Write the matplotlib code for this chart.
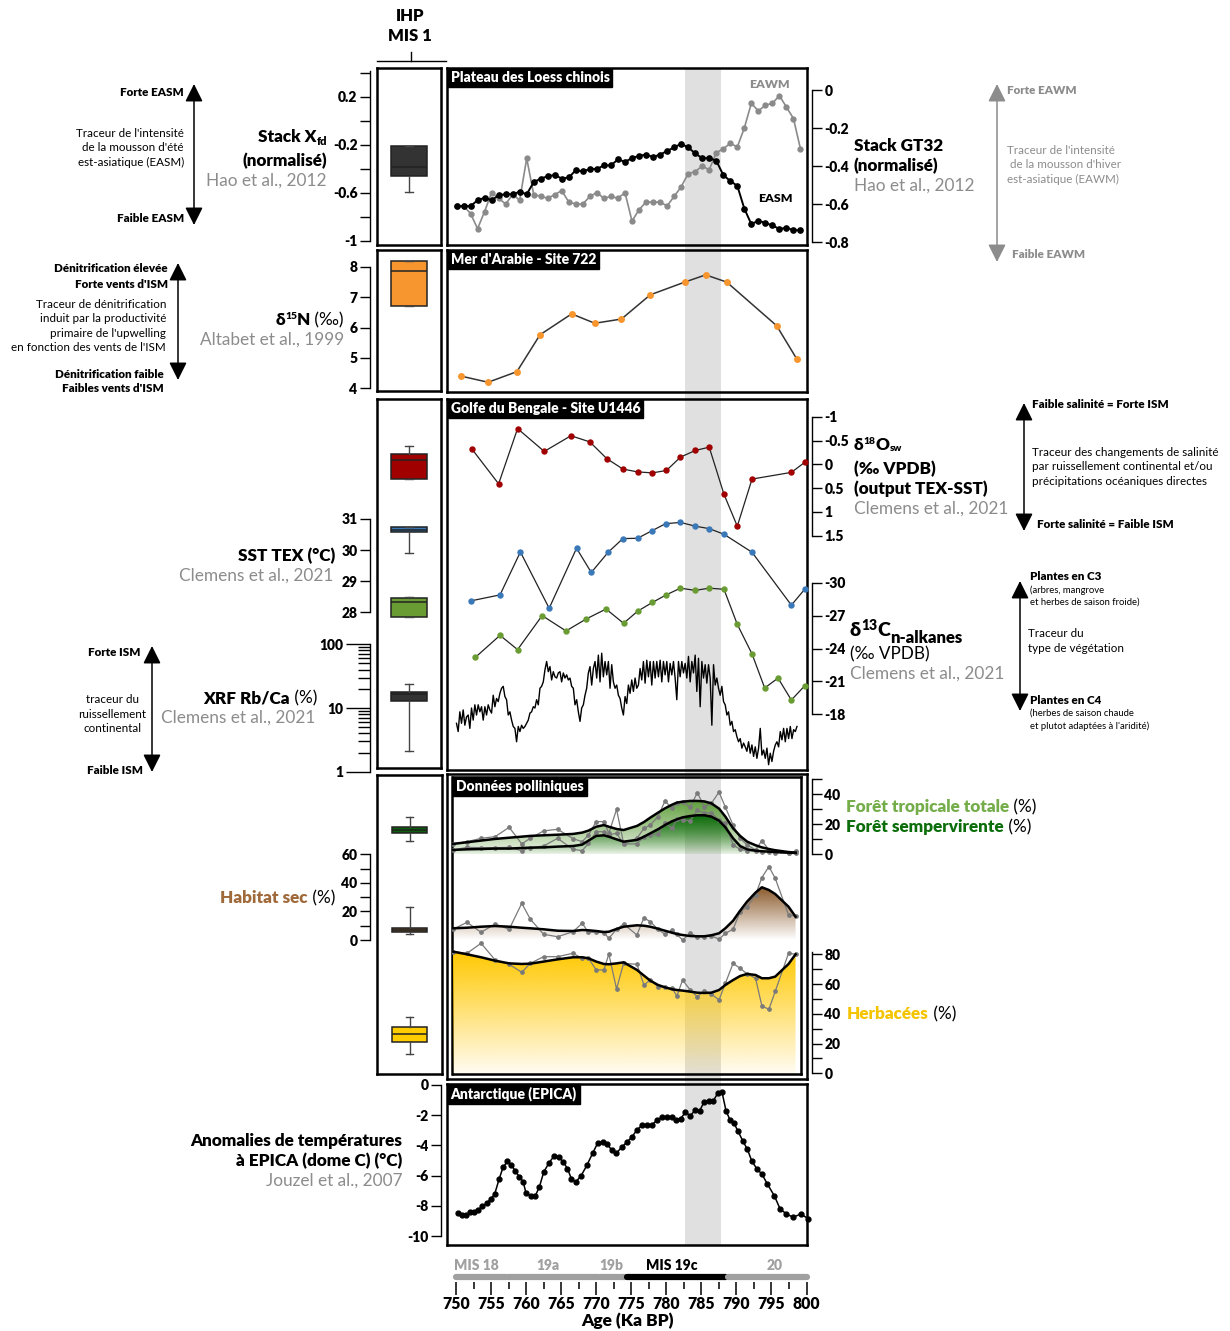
import numpy as np
import matplotlib.pyplot as plt
from matplotlib.colors import to_rgb
from matplotlib.patches import Rectangle
from matplotlib.transforms import blended_transform_factory
from matplotlib.ticker import NullFormatter

plt.rcParams['font.family'] = ['Lato', 'DejaVu Sans']
plt.rcParams['axes.unicode_minus'] = False

# ---------------------------------------------------------------- data
# Loess plateau stacks (1 ka resolution)
loess_age = list(range(750, 800))
easm_xfd = [-0.71, -0.71, -0.71, -0.66, -0.64, -0.66, -0.62, -0.61, -0.61, -0.59,
            -0.61, -0.51, -0.48, -0.46, -0.45, -0.48, -0.47, -0.41, -0.42, -0.40,
            -0.40, -0.37, -0.37, -0.32, -0.34, -0.31, -0.29, -0.28, -0.30, -0.28,
            -0.25, -0.22, -0.19, -0.22, -0.27, -0.31, -0.31, -0.33, -0.45, -0.50,
            -0.54, -0.73, -0.86, -0.83, -0.85, -0.87, -0.90, -0.89, -0.91, -0.91]
eawm_gt32 = [-0.61, -0.61, -0.65, -0.73, -0.64, -0.54, -0.57, -0.60, -0.55, -0.58,
             -0.36, -0.55, -0.56, -0.57, -0.55, -0.53, -0.59, -0.60, -0.60, -0.56,
             -0.54, -0.57, -0.56, -0.57, -0.54, -0.69, -0.63, -0.59, -0.59, -0.59,
             -0.61, -0.56, -0.51, -0.44, -0.43, -0.40, -0.42, -0.33, -0.31, -0.28,
             -0.30, -0.20, -0.07, -0.11, -0.08, -0.07, -0.03, -0.09, -0.15, -0.31]

# Arabian Sea, site 722
arabia_age = [750.7, 754.5, 758.6, 761.9, 766.4, 769.7, 773.5, 777.6, 782.5, 785.5, 788.5, 795.6, 798.5]
arabia_d15n = [4.39, 4.19, 4.54, 5.76, 6.45, 6.14, 6.28, 7.08, 7.50, 7.74, 7.50, 6.06, 4.95]

# Bay of Bengal, site U1446
d18o_age = [752.2, 756.0, 758.7, 762.5, 766.3, 769.0, 771.4, 773.7, 775.8, 777.9,
            779.9, 781.9, 784.0, 786.0, 788.1, 790.0, 792.1, 797.7, 799.6]
d18o_sw = [-0.32, 0.41, -0.75, -0.27, -0.60, -0.47, -0.12, 0.10, 0.16, 0.18,
           0.13, -0.15, -0.29, -0.36, 0.63, 1.30, 0.31, 0.17, -0.04]
sst_age = [752.1, 756.2, 759.1, 763.2, 767.1, 769.2, 771.6, 773.7, 775.8, 777.9,
           779.8, 781.9, 784.0, 786.0, 788.1, 792.1, 797.7, 799.6]
sst_tex = [28.37, 28.56, 29.94, 28.13, 30.06, 29.28, 29.93, 30.37, 30.38, 30.63,
           30.85, 30.89, 30.77, 30.69, 30.51, 29.93, 28.23, 28.74]
d13c_age = [752.7, 756.2, 758.7, 762.2, 765.6, 768.5, 771.3, 773.8, 775.8, 777.9,
            779.9, 781.9, 784.0, 786.0, 788.1, 790.0, 792.1, 793.9, 795.8, 797.7, 799.6]
d13c_alk = [-23.2, -25.2, -23.9, -27.0, -25.6, -26.7, -27.6, -26.3, -27.4, -28.2,
            -28.9, -29.5, -29.3, -29.5, -29.4, -26.2, -23.5, -20.4, -21.3, -19.3, -20.6]
# XRF Rb/Ca, log10 of the percentage, evenly sampled between the two ages
xrf_first_age, xrf_last_age = 750.0, 798.5
xrf_rbca_log10 = [
    0.76, 0.63, 0.94, 0.76, 0.97, 0.73, 0.86, 0.89, 0.68, 1.00,
    0.81, 1.05, 0.89, 1.05, 0.94, 1.02, 0.81, 1.02, 0.89, 1.05,
    0.97, 0.92, 1.20, 1.02, 1.15, 1.10, 1.23, 1.31, 1.34, 1.18,
    1.13, 0.89, 0.94, 0.81, 0.71, 0.68, 0.47, 0.71, 0.63, 0.73,
    0.68, 0.71, 0.76, 0.81, 0.92, 0.94, 1.02, 1.00, 1.13, 1.05,
    1.31, 1.34, 1.41, 1.60, 1.73, 1.57, 1.65, 1.44, 1.57, 1.49,
    1.47, 1.55, 1.57, 1.41, 1.55, 1.47, 1.52, 1.44, 1.47, 1.34,
    1.31, 1.05, 1.13, 0.94, 0.79, 1.00, 1.05, 1.20, 1.31, 1.55,
    1.65, 1.36, 1.62, 1.73, 1.47, 1.83, 1.41, 1.86, 1.49, 1.73,
    1.52, 1.73, 1.31, 1.68, 1.41, 1.31, 1.36, 1.20, 1.15, 1.00,
    0.89, 1.18, 1.07, 1.36, 1.23, 1.44, 1.26, 1.47, 1.31, 1.36,
    1.62, 1.44, 1.73, 1.39, 1.75, 1.49, 1.73, 1.36, 1.73, 1.47,
    1.73, 1.49, 1.75, 1.41, 1.73, 1.52, 1.73, 1.41, 1.70, 1.52,
    1.73, 1.47, 1.13, 1.73, 1.49, 1.73, 1.55, 1.70, 1.47, 1.81,
    1.41, 1.73, 1.55, 1.83, 1.26, 1.78, 1.02, 1.73, 1.47, 1.68,
    1.39, 1.68, 1.47, 0.73, 1.68, 1.36, 1.47, 1.31, 1.20, 1.34,
    1.10, 1.05, 0.89, 0.94, 0.73, 0.79, 0.63, 0.66, 0.55, 0.47,
    0.52, 0.37, 0.45, 0.39, 0.32, 0.47, 0.29, 0.42, 0.24, 0.39,
    0.21, 0.37, 0.68, 0.26, 0.34, 0.21, 0.37, 0.11, 0.29, 0.16,
    0.32, 0.42, 0.47, 0.39, 0.63, 0.50, 0.68, 0.47, 0.68, 0.52,
    0.71, 0.52, 0.66, 0.63, 0.71]

# pollen (%)
pollen_age = [749.5, 751.5, 753.5, 755.5, 757.5, 759.3, 760.5, 762.4, 764.4, 766.6,
              767.9, 768.8, 769.9, 771.0, 771.7, 772.8, 773.8, 775.7, 776.7, 777.6,
              778.7, 779.7, 780.7, 781.4, 782.2, 783.3, 784.3, 785.3, 786.3, 787.4,
              788.3, 789.4, 790.4, 791.4, 792.6, 793.5, 794.5, 795.4, 797.3, 798.3]
forest_total_raw = [6.9, 8.4, 10.6, 11.7, 17.9, 6.9, 10.6, 15.5, 16.6, 10.4,
                    8.4, 12.8, 21.7, 21.7, 14.0, 29.8, 7.3, 10.6, 17.2, 19.4,
                    25.0, 35.4, 30.5, 34.3, 34.9, 31.2, 40.9, 31.6, 33.8, 41.3,
                    31.2, 19.4, 10.6, 6.2, 2.9, 9.1, 2.9, 1.8, 0.7, 2.2]
forest_total_smooth = [6.9, 8.0, 9.1, 10.2, 11.0, 11.7, 12.2, 12.6, 13.0, 13.5,
                       14.4, 15.7, 18.3, 19.4, 18.3, 16.8, 16.1, 18.8, 21.4, 24.3,
                       27.6, 30.5, 32.9, 34.3, 34.9, 35.4, 35.4, 35.1, 33.8, 30.3,
                       25.0, 17.2, 12.2, 8.4, 6.0, 4.6, 3.5, 2.7, 1.5, 1.1]
forest_semp_raw = [2.9, 4.6, 4.4, 4.4, 4.6, 2.4, 4.4, 5.5, 10.6, 3.3,
                   2.4, 7.3, 15.0, 15.0, 13.0, 13.9, 6.9, 6.9, 11.7, 12.8,
                   13.5, 20.6, 17.2, 23.2, 22.8, 22.3, 29.4, 27.2, 27.6, 22.8,
                   20.6, 6.2, 3.3, 2.4, 2.2, 1.8, 1.8, 1.1, 0.7, 0.7]
forest_semp_smooth = [2.9, 3.3, 3.5, 3.8, 3.8, 4.2, 4.4, 4.6, 5.1, 5.5,
                      6.4, 9.1, 12.2, 12.6, 11.7, 9.9, 8.4, 9.5, 11.7, 13.9,
                      16.6, 19.4, 21.9, 23.2, 24.5, 25.4, 25.9, 25.9, 25.0, 22.3,
                      17.9, 10.6, 5.5, 3.3, 2.4, 2.0, 1.8, 1.5, 1.1, 0.9]
dry_raw = [7.5, 12.4, 5.4, 11.2, 7.5, 25.7, 14.7, 4.0, 2.3, 5.8,
           11.7, 5.4, 5.4, 5.1, 1.2, 7.5, 11.2, 3.5, 15.6, 12.8,
           7.5, 4.0, 7.0, 4.0, 0.0, 4.7, 2.3, 2.3, 3.0, 0.5,
           4.7, 7.5, 19.8, 23.3, 31.5, 43.7, 51.4, 43.2, 17.5, 16.8]
dry_smooth = [8.2, 8.6, 9.3, 9.8, 9.3, 8.6, 8.2, 7.5, 6.5, 6.3,
              7.0, 6.8, 6.3, 5.6, 5.8, 7.7, 9.3, 10.3, 10.0, 9.3,
              7.9, 6.5, 5.1, 4.2, 3.5, 2.8, 2.6, 2.6, 3.3, 4.7,
              8.2, 13.5, 20.5, 26.9, 33.2, 36.9, 35.0, 32.2, 23.3, 16.3]
herb_raw = [81.8, 80.7, 87.4, 76.2, 73.3, 67.9, 73.9, 78.4, 78.4, 80.7,
            77.3, 77.3, 69.5, 69.5, 80.2, 56.7, 73.9, 73.3, 59.4, 62.7,
            58.3, 57.8, 57.1, 52.0, 62.7, 56.0, 51.5, 55.6, 53.3, 49.3,
            60.5, 73.9, 70.6, 66.8, 63.9, 45.3, 43.0, 55.0, 80.7, 80.0]
herb_smooth = [81.8, 80.0, 78.0, 75.7, 73.9, 73.5, 73.7, 75.1, 76.6, 78.0,
               78.0, 77.3, 75.1, 73.5, 73.3, 73.9, 74.6, 69.5, 65.7, 62.3,
               59.4, 57.8, 56.5, 56.0, 55.6, 54.9, 54.2, 54.0, 54.2, 56.0,
               59.4, 62.7, 65.4, 66.8, 66.1, 63.9, 63.9, 65.0, 73.5, 80.0]

# EPICA Dome C temperature anomaly (°C)
epica_age = [750.26, 750.83, 751.40, 751.97, 752.54, 753.11, 753.69, 754.30, 754.87, 755.44,
             756.06, 756.63, 757.25, 757.82, 758.39, 758.96, 759.49, 759.91, 760.58, 761.20,
             761.82, 762.43, 763.20, 763.91, 764.53, 765.19, 765.81, 766.38, 767.00, 767.76,
             768.57, 769.38, 770.14, 770.80, 771.47, 772.09, 772.75, 773.51, 774.23, 774.94,
             775.70, 776.46, 777.18, 777.89, 778.55, 779.27, 779.93, 780.65, 781.22, 781.93,
             782.60, 783.31, 783.98, 784.64, 785.26, 785.97, 786.59, 787.21, 787.83, 788.40,
             788.97, 789.54, 790.11, 790.77, 791.44, 792.06, 792.77, 793.49, 794.25, 795.29,
             796.10, 797.00, 797.96, 799.05, 800.14]
epica_dt = [-8.50, -8.59, -8.63, -8.43, -8.41, -8.28, -8.01, -7.84, -7.55, -7.22,
            -6.25, -5.45, -5.06, -5.28, -5.72, -6.07, -6.40, -7.17, -7.33, -7.37,
            -6.73, -5.76, -5.14, -4.70, -4.75, -5.08, -5.54, -6.23, -6.42, -6.00,
            -5.32, -4.53, -3.82, -3.80, -3.91, -4.30, -4.53, -4.13, -3.80, -3.47,
            -2.98, -2.65, -2.65, -2.63, -2.32, -2.14, -2.10, -2.12, -2.32, -2.23,
            -1.81, -2.03, -1.68, -1.70, -1.13, -1.04, -1.04, -0.55, -0.49, -1.72,
            -2.32, -2.54, -3.07, -3.69, -4.26, -5.03, -5.54, -5.89, -6.53, -7.35,
            -8.21, -8.54, -8.76, -8.54, -8.87]

# IHP MIS 1 box statistics: (q1, median, q3, whisker low, whisker high)
box_xfd = (-0.46, -0.38, -0.21, -0.59, -0.21)
box_d15n = (6.71, 7.88, 8.20, 6.71, 8.20)
box_d18o = (-0.22, -0.08, 0.30, -0.38, 0.30)
box_sst = (30.57, 30.65, 30.73, 29.90, 30.73)
box_d13c = (-28.64, -28.27, -26.85, -28.73, -26.85)
box_xrf = (12.7, 16.6, 17.8, 2.1, 23.8)
box_forest = (13.9, 15.9, 17.9, 8.8, 24.9)
box_dry = (5.6, 7.0, 8.4, 4.2, 22.9)
box_herb = (21.2, 26.4, 31.3, 13.0, 38.0)

# marine isotope stages along the age axis
mis_labels = ['MIS 18', '19a', '19b', 'MIS 19c', '20']
mis_start = [750.0, 757.4, 770.5, 774.3, 788.8]
mis_end = [757.1, 770.2, 774.1, 788.5, 800.0]
mis_label_age = [752.8, 763.0, 772.1, 780.7, 795.4]
shade_start, shade_end = 782.6, 787.7

# ---------------------------------------------------------------- layout helpers (pixels)
W, H = 1230, 1331
fig = plt.figure(figsize=(W / 100, H / 100), dpi=100)

GRAY = '#8c8c8c'
BOLD = 'heavy'
BIG, CIT, SMALL, TINY, TICK = 12.3, 12.4, 8.4, 6.8, 10
REF = {  # pixel row <-> value pairs
    'xfd': (97, 0.2, 241, -1.0), 'gt32': (90, 0.0, 242, -0.8),
    'd15n': (267, 8, 388, 4), 'd18o': (416.7, -1.0, 535.7, 1.5),
    'sst': (519, 31, 612.3, 28), 'd13c': (582.7, -30, 714.3, -18),
    'xrf': (644.3, 2.0, 771.7, 0.0), 'forest': (854.3, 0, 794, 40),
    'dry': (940, 0, 854.3, 60), 'herb': (1073.3, 0, 954.3, 80),
    'epica': (1085, 0, 1236, -10),
}


def px_axes(x0, y0, x1, y1, **kw):
    return fig.add_axes([x0 / W, 1 - y1 / H, (x1 - x0) / W, (y1 - y0) / H], **kw)


def age_lim(x0, x1):
    s = 50 / (807.5 - 456.5)
    return 750 + (x0 - 456.5) * s, 750 + (x1 - 456.5) * s


def vlim(key, y_top, y_bot):
    p1, v1, p2, v2 = REF[key]
    k = (v2 - v1) / (p2 - p1)
    lo, hi = v1 + (y_bot - p1) * k, v1 + (y_top - p1) * k
    if key == 'xrf':
        return 10 ** lo, 10 ** hi
    return lo, hi


def overlay(box, key, xlim=None):
    ax = px_axes(*box)
    ax.axis('off')
    if key == 'xrf':
        ax.set_yscale('log')
    ax.set_xlim(xlim if xlim else age_lim(box[0], box[2]))
    ax.set_ylim(vlim(key, box[1], box[3]))
    return ax


def frame(box, lw=1.8):
    ax = px_axes(*box)
    ax.set_facecolor('none')
    ax.set_xlim(age_lim(box[0], box[2]))
    ax.set_xticks([])
    ax.set_yticks([])
    for s in ax.spines.values():
        s.set_linewidth(lw)
    return ax


def panel(box, title):
    ax = frame(box)
    ax.annotate(title, xy=(0, 1), xycoords='axes fraction', xytext=(2.6, -2.4),
                textcoords='offset points', ha='left', va='top', color='white',
                fontsize=10, fontweight=BOLD,
                bbox=dict(boxstyle='square,pad=0.2', fc='black', ec='black'))
    return ax


def bracket(x, key, y0, y1, side, major, labels, minor=(), big=7, small=7):
    a = px_axes(x, y0, x + 1, y1) if side == 'left' else px_axes(x - 1, y0, x, y1)
    a.patch.set_visible(False)
    for s in a.spines.values():
        s.set_visible(False)
    a.spines[side].set_visible(True)
    a.spines[side].set_linewidth(1.0)
    a.xaxis.set_visible(False)
    if key == 'xrf':
        a.set_yscale('log')
    a.set_ylim(vlim(key, y0, y1))
    a.yaxis.set_ticks_position(side)
    a.set_yticks(major, labels, fontweight=BOLD, fontsize=TICK)
    a.set_yticks(list(minor), minor=True)
    a.yaxis.set_minor_formatter(NullFormatter())
    a.tick_params(axis='y', which='major', direction='out', length=big, width=1.0, pad=2)
    a.tick_params(axis='y', which='minor', direction='out', length=small, width=1.0)
    return a


def draw_box(ax, stats, color):
    q1, med, q3, lo, hi = stats
    ax.bxp([dict(q1=q1, med=med, q3=q3, whislo=lo, whishi=hi, fliers=[])],
           positions=[0.5], widths=[0.55], patch_artist=True, showfliers=False,
           manage_ticks=False, capwidths=[0.12],
           boxprops=dict(facecolor=color, edgecolor='#222222', linewidth=1.1),
           medianprops=dict(color='#222222', linewidth=1.1),
           whiskerprops=dict(color='#444444', linewidth=1.0),
           capprops=dict(color='#444444', linewidth=1.0))


def gradient_fill(ax, x, y, color, a_bot=0.0, a_top=1.0, zorder=1):
    poly = ax.fill_between(x, 0, y, facecolor='none', edgecolor='none')
    grad = np.zeros((200, 1, 4))
    grad[:, :, :3] = to_rgb(color)
    grad[:, 0, 3] = np.linspace(a_bot, a_top, 200)
    im = ax.imshow(grad, aspect='auto', origin='lower', zorder=zorder,
                   extent=[min(x), max(x), 0, max(y)], interpolation='bilinear')
    im.set_clip_path(poly.get_paths()[0], transform=ax.transData)


# text layer in pixel coordinates
ax_t = fig.add_axes([0, 0, 1, 1], zorder=20)
ax_t.set_xlim(0, W)
ax_t.set_ylim(H, 0)
ax_t.axis('off')


def txt(x, y, s, size=SMALL, weight='normal', color='black', ha='left', **kw):
    return ax_t.text(x, y, s, ha=ha, va='center', fontsize=size, fontweight=weight,
                     color=color, **kw)


def rich(x, y, pieces, ha='left'):
    parts = []
    prev = ref = None
    for s, size, weight, color, mode in pieces:
        if prev is None:
            t = ax_t.text(x, y, s, ha='left', va='center', fontsize=size,
                          fontweight=weight, color=color)
            ref = t
        else:
            xy, va = {'sup': ((1, 0.42), 'bottom'), 'sub': ((1, 0.55), 'top'),
                      'n': ((1, 0), 'bottom')}[mode]
            t = ax_t.annotate(s, xy=xy, xycoords=(prev, ref), ha='left', va=va,
                              fontsize=size, fontweight=weight, color=color)
            if mode == 'n':
                ref = t
        parts.append(t)
        prev = t
    if ha == 'right':
        r = fig.canvas.get_renderer()
        x0 = parts[0].get_window_extent(r).x0
        x1 = max(p.get_window_extent(r).x1 for p in parts)
        parts[0].set_x(x - (x1 - x0))
    return parts


def arrow(x, y_top, y_bot, color='black'):
    ax_t.annotate('', xy=(x, y_top), xytext=(x, y_bot),
                  arrowprops=dict(arrowstyle='<|-|>,head_length=0.9,head_width=0.45',
                                  color=color, lw=1.1, shrinkA=0, shrinkB=0,
                                  mutation_scale=12))


# ---------------------------------------------------------------- boxes (pixel layout)
P1 = (447, 68, 806.5, 245)
P2 = (447, 250, 806.5, 391.5)
P3 = (447, 399, 806.5, 769.5)
P4o = (447, 773.5, 806.5, 1079)
P4i = (452.5, 777, 801, 1073.5)
P5 = (447, 1083.5, 806.5, 1244.5)
B1 = (377, 68, 441, 244.5)
B2 = (377, 250, 441, 391)
B3 = (377, 399, 441, 768)
B4 = (377, 775, 442, 1073.5)

# ---------------------------------------------------------------- panel 1: Loess
ax1 = panel(P1, 'Plateau des Loess chinois')
a = overlay(P1, 'gt32')
a.plot(loess_age, eawm_gt32, '-o', color='#8a8a8a', lw=1.2, ms=3.5, clip_on=False)
a = overlay(P1, 'xfd')
a.plot(loess_age, easm_xfd, '-o', color='black', lw=1.4, ms=3.8, clip_on=False)
txt(769, 84, 'EAWM', 8.8, BOLD, GRAY, ha='center')
txt(775, 199, 'EASM', 8.8, BOLD, ha='center')

frame(B1)
draw_box(overlay(B1, 'xfd', (0, 1)), box_xfd, '#333333')
bracket(370, 'xfd', 71, 241, 'left', [0.2, -0.2, -0.6, -1.0], ['0.2', '-0.2', '-0.6', '-1'],
        [0.4, 0.0, -0.4, -0.8])
bracket(812, 'gt32', 90, 242, 'right', [0, -0.2, -0.4, -0.6, -0.8],
        ['0', '-0.2', '-0.4', '-0.6', '-0.8'])

# ---------------------------------------------------------------- panel 2: Arabian Sea
panel(P2, "Mer d'Arabie - Site 722")
a = overlay(P2, 'd15n')
a.plot(arabia_age, arabia_d15n, '-', color='#333333', lw=1.1)
a.plot(arabia_age, arabia_d15n, 'o', color='#f7962e', ms=5, mec='none')
frame(B2)
draw_box(overlay(B2, 'd15n', (0, 1)), box_d15n, '#f7962e')
bracket(370, 'd15n', 267, 388, 'left', [4, 5, 6, 7, 8], ['4', '5', '6', '7', '8'])

# ---------------------------------------------------------------- panel 3: Bay of Bengal
panel(P3, 'Golfe du Bengale - Site U1446')
for key, ages, vals, col in [('d18o', d18o_age, d18o_sw, '#a00000'),
                             ('sst', sst_age, sst_tex, '#3b78b8'),
                             ('d13c', d13c_age, d13c_alk, '#6a9c34')]:
    a = overlay(P3, key)
    a.plot(ages, vals, '-', color='#222222', lw=0.9, clip_on=False)
    a.plot(ages, vals, 'o', color=col, ms=4.6, mec='none', clip_on=False)
a = overlay(P3, 'xrf')
xrf_age = np.linspace(xrf_first_age, xrf_last_age, len(xrf_rbca_log10))
a.plot(xrf_age, 10 ** np.array(xrf_rbca_log10), color='black', lw=1.0)

frame(B3)
draw_box(overlay(B3, 'd18o', (0, 1)), box_d18o, '#a00000')
draw_box(overlay(B3, 'sst', (0, 1)), box_sst, '#3b78b8')
draw_box(overlay(B3, 'd13c', (0, 1)), box_d13c, '#6a9c34')
draw_box(overlay(B3, 'xrf', (0, 1)), box_xrf, '#333333')
bracket(812, 'd18o', 416.7, 535.7, 'right', [-1, -0.5, 0, 0.5, 1, 1.5],
        ['-1', '-0.5', '0', '0.5', '1', '1.5'])
bracket(370, 'sst', 519, 612.3, 'left', [28, 29, 30, 31], ['28', '29', '30', '31'])
bracket(812, 'd13c', 582.7, 714.3, 'right', [-30, -27, -24, -21, -18],
        ['-30', '-27', '-24', '-21', '-18'])
bracket(370, 'xrf', 644.3, 771.7, 'left', [1, 10, 100], ['1', '10', '100'],
        [m * d for d in (1, 10) for m in range(2, 10)], big=17, small=9)

# ---------------------------------------------------------------- panel 4: pollen
frame(P4o)
panel(P4i, 'Données polliniques')
a = overlay(P4i, 'forest')
gradient_fill(a, pollen_age, forest_total_smooth, '#5f9e3c', 0.12, 1.0, zorder=1)
gradient_fill(a, pollen_age, forest_semp_smooth, '#0b6b0b', 0.0, 1.0, zorder=2)
a.plot(pollen_age, forest_total_raw, '-o', color='#7a7a7a', lw=0.9, ms=2.4, zorder=3)
a.plot(pollen_age, forest_semp_raw, '-o', color='#7a7a7a', lw=0.9, ms=2.4, zorder=3)
a.plot(pollen_age, forest_total_smooth, color='black', lw=1.8, zorder=4)
a.plot(pollen_age, forest_semp_smooth, color='black', lw=1.8, zorder=4)
a.set_xlim(age_lim(P4i[0], P4i[2]))
a.set_ylim(vlim('forest', P4i[1], P4i[3]))

a = overlay(P4i, 'dry')
gradient_fill(a, pollen_age, dry_smooth, '#8b5a2b', 0.0, 1.0)
a.plot(pollen_age, dry_raw, '-o', color='#7a7a7a', lw=0.9, ms=2.4, zorder=3)
a.plot(pollen_age, dry_smooth, color='black', lw=1.8, zorder=4)
a.set_xlim(age_lim(P4i[0], P4i[2]))
a.set_ylim(vlim('dry', P4i[1], P4i[3]))

a = overlay(P4i, 'herb')
gradient_fill(a, pollen_age, herb_smooth, '#ffc800', 0.06, 1.0)
a.plot(pollen_age, herb_raw, '-o', color='#7a7a7a', lw=0.9, ms=2.4, zorder=3)
a.plot(pollen_age, herb_smooth, color='black', lw=1.8, zorder=4)
a.set_xlim(age_lim(P4i[0], P4i[2]))
a.set_ylim(vlim('herb', P4i[1], P4i[3]))

frame(B4)
draw_box(overlay(B4, 'forest', (0, 1)), box_forest, '#0b5e0b')
draw_box(overlay(B4, 'dry', (0, 1)), box_dry, '#7a5230')
draw_box(overlay(B4, 'herb', (0, 1)), box_herb, '#ffcc00')
bracket(812, 'forest', 779, 854.3, 'right', [0, 20, 40], ['0', '20', '40'], [10, 30, 50])
bracket(370, 'dry', 854.3, 940, 'left', [0, 20, 40, 60], ['0', '20', '40', '60'], [10, 30, 50])
bracket(812, 'herb', 952, 1073.3, 'right', [0, 20, 40, 60, 80],
        ['0', '20', '40', '60', '80'], [10, 30, 50, 70])

# ---------------------------------------------------------------- panel 5: EPICA
panel(P5, 'Antarctique (EPICA)')
a = overlay(P5, 'epica')
a.plot(epica_age, epica_dt, '-o', color='black', lw=1.1, ms=3.5, clip_on=False)
bracket(441, 'epica', 1085, 1236, 'left', [0, -2, -4, -6, -8, -10],
        ['0', '-2', '-4', '-6', '-8', '-10'])

# ---------------------------------------------------------------- shading across panels
trans = blended_transform_factory(ax1.transData, fig.transFigure)
fig.add_artist(Rectangle((shade_start, 1 - 1245 / H), shade_end - shade_start,
                         (1245 - 68) / H, transform=trans, facecolor='#e0e0e0',
                         edgecolor='none', zorder=-1))

# ---------------------------------------------------------------- age axis with MIS bar
ax_age = px_axes(447, 1255, 806.5, 1282)
ax_age.set_xlim(age_lim(447, 806.5))
ax_age.set_ylim(1282, 1255)
ax_age.patch.set_visible(False)
for s in ax_age.spines.values():
    s.set_visible(False)
ax_age.set_yticks([])
for lab, s, e, la in zip(mis_labels, mis_start, mis_end, mis_label_age):
    col = 'black' if lab == 'MIS 19c' else '#a0a0a0'
    ax_age.plot([s, e], [1277, 1277], color=col, lw=4.5, solid_capstyle='round', clip_on=False)
    ax_age.text(la, 1266, lab, ha='center', va='center', fontsize=10,
                fontweight=BOLD, color=col)
ax_age.set_xticks(range(750, 801, 5), [str(v) for v in range(750, 801, 5)],
                  fontweight=BOLD, fontsize=11.3)
ax_age.set_xticks(np.arange(752.5, 800, 5), minor=True)
ax_age.tick_params(axis='x', which='major', direction='out', length=9, width=1.1, pad=1)
ax_age.tick_params(axis='x', which='minor', direction='out', length=5, width=1.1)
txt(627, 1321, 'Age (Ka BP)', 12.5, BOLD, ha='center')

# ---------------------------------------------------------------- header
txt(410, 16, 'IHP', 12, BOLD, ha='center')
txt(410, 36, 'MIS 1', 12, BOLD, ha='center')
ax_t.plot([377, 446], [61, 61], color='black', lw=1.0)
ax_t.plot([411, 411], [52, 61], color='black', lw=1.0)

# ---------------------------------------------------------------- left annotations
txt(184, 93, 'Forte EASM', SMALL, BOLD, ha='right')
txt(184, 148, "Traceur de l'intensité\nde la mousson d'été\nest-asiatique (EASM)",
    ha='right', linespacing=1.4)
txt(184, 218, 'Faible EASM', SMALL, BOLD, ha='right')
arrow(194, 84, 225)
rich(327, 137, [('Stack X', BIG, BOLD, 'black', 'n'), ('fd', 8, BOLD, 'black', 'sub')],
     ha='right')
txt(327, 161, '(normalisé)', BIG, BOLD, ha='right')
txt(327, 181, 'Hao et al., 2012', CIT, color=GRAY, ha='right')

txt(168, 269, 'Dénitrification élevée', SMALL, BOLD, ha='right')
txt(168, 284, "Forte vents d'ISM", SMALL, BOLD, ha='right')
txt(166, 326, "Traceur de dénitrification\ninduit par la productivité\nprimaire de l'upwelling\n"
    "en fonction des vents de l'ISM", ha='right', linespacing=1.35)
txt(164, 374, 'Dénitrification faible', SMALL, BOLD, ha='right')
txt(164, 388, "Faibles vents d'ISM", SMALL, BOLD, ha='right')
arrow(178, 263, 380)
rich(344, 320, [('δ', BIG, BOLD, 'black', 'n'), ('15', 7.5, BOLD, 'black', 'sup'),
                ('N', BIG, BOLD, 'black', 'n'), (' (‰)', BIG, 'normal', 'black', 'n')],
     ha='right')
txt(344, 340, 'Altabet et al., 1999', CIT, color=GRAY, ha='right')

txt(335, 556, 'SST TEX (°C)', BIG, BOLD, ha='right')
txt(333, 576, 'Clemens et al., 2021', CIT, color=GRAY, ha='right')
rich(317, 698, [('XRF Rb/Ca', BIG, BOLD, 'black', 'n'), (' (%)', BIG, 'normal', 'black', 'n')],
     ha='right')
txt(315, 718, 'Clemens et al., 2021', CIT, color=GRAY, ha='right')
txt(141, 653, 'Forte ISM', SMALL, BOLD, ha='right')
txt(112, 714, 'traceur du\nruissellement\ncontinental', ha='center', linespacing=1.4)
txt(143, 771, 'Faible ISM', SMALL, BOLD, ha='right')
arrow(152, 646, 772)

rich(335, 898, [('Habitat sec', BIG, BOLD, '#a0693a', 'n'), (' (%)', BIG, 'normal', 'black', 'n')],
     ha='right')

txt(402, 1141, 'Anomalies de températures', BIG, BOLD, ha='right')
txt(402, 1161, 'à EPICA (dome C) (°C)', BIG, BOLD, ha='right')
txt(402, 1181, 'Jouzel et al., 2007', CIT, color=GRAY, ha='right')

# ---------------------------------------------------------------- right annotations
txt(854, 146, 'Stack GT32', BIG, BOLD)
txt(854, 166, '(normalisé)', BIG, BOLD)
txt(854, 186, 'Hao et al., 2012', CIT, color=GRAY)
txt(1007, 90, 'Forte EAWM', SMALL, BOLD, GRAY)
txt(1007, 165, "Traceur de l'intensité\n de la mousson d'hiver\nest-asiatique (EAWM)",
    color=GRAY, linespacing=1.4)
txt(1012, 254, 'Faible EAWM', SMALL, BOLD, GRAY)
arrow(997, 84, 262, GRAY)

rich(854, 445, [('δ', BIG, BOLD, 'black', 'n'), ('18', 7.5, BOLD, 'black', 'sup'),
                ('O', BIG, BOLD, 'black', 'n'), ('sw', 7, BOLD, 'black', 'sub')])
txt(854, 469, '(‰ VPDB)', BIG, BOLD)
txt(854, 489, '(output TEX-SST)', BIG, BOLD)
txt(854, 509, 'Clemens et al., 2021', CIT, color=GRAY)
txt(1032, 405, 'Faible salinité = Forte ISM', SMALL, BOLD)
txt(1032, 467, 'Traceur des changements de salinité\npar ruissellement continental et/ou\n'
    'précipitations océaniques directes', linespacing=1.4)
txt(1037, 525, 'Forte salinité = Faible ISM', SMALL, BOLD)
arrow(1024, 403, 531)

rich(850, 631, [('δ', 14, BOLD, 'black', 'n'), ('13', 10, BOLD, 'black', 'sup'),
                ('C', 14, BOLD, 'black', 'n'), ('n-alkanes', 12, BOLD, 'black', 'sub')])
txt(850, 654, '(‰ VPDB)', BIG)
txt(850, 674, 'Clemens et al., 2021', CIT, color=GRAY)
txt(1030, 577, 'Plantes en C3', SMALL, BOLD)
txt(1030, 596, '(arbres, mangrove\net herbes de saison froide)', TINY, linespacing=1.45)
txt(1028, 641, 'Traceur du\ntype de végétation', linespacing=1.4)
txt(1030, 701, 'Plantes en C4', SMALL, BOLD)
txt(1030, 720, "(herbes de saison chaude\net plutot adaptées à l'aridité)", TINY, linespacing=1.45)
arrow(1020, 581, 711)

rich(846, 807, [('Forêt tropicale totale', BIG, BOLD, '#74ad4a', 'n'),
                (' (%)', BIG, 'normal', 'black', 'n')])
rich(846, 827, [('Forêt sempervirente', BIG, BOLD, '#0b6e0b', 'n'),
                (' (%)', BIG, 'normal', 'black', 'n')])
rich(847, 1014, [('Herbacées', BIG, BOLD, '#f5c400', 'n'),
                 (' (%)', BIG, 'normal', 'black', 'n')])

fig.savefig('out.png', dpi=100)
